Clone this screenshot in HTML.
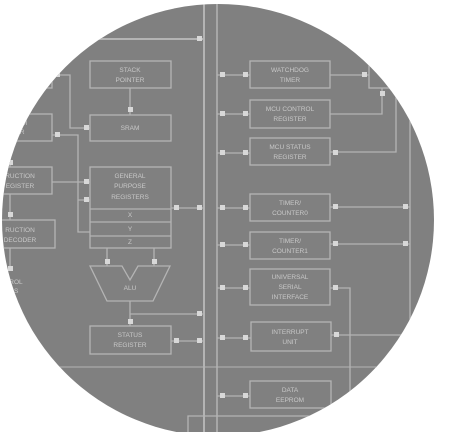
<!DOCTYPE html>
<html><head><style>
html,body{margin:0;padding:0;background:#fff;width:450px;height:432px;overflow:hidden}
text{font-family:"Liberation Sans",sans-serif;font-size:6.5px;fill:#c8c8c8;text-anchor:middle}
</style></head><body>
<svg width="450" height="432" viewBox="0 0 450 432" xmlns="http://www.w3.org/2000/svg">
<defs><clipPath id="c"><circle cx="218" cy="220" r="216"/></clipPath></defs>
<circle cx="218" cy="220" r="216" fill="#808080"/>
<g clip-path="url(#c)" stroke="#b4b4b4" stroke-width="1.3" fill="none">
<line x1="204" y1="0" x2="204" y2="432" stroke-width="2"/>
<line x1="217" y1="0" x2="217" y2="432" stroke-width="1.5"/>
<line x1="0" y1="367" x2="450" y2="367" stroke-width="1"/>
<line x1="95" y1="39" x2="204" y2="39" stroke-width="2"/>
<rect x="90" y="61" width="81" height="27"/>
<rect x="90" y="115" width="81" height="26"/>
<rect x="90" y="167" width="81" height="81"/>
<line x1="90" y1="209" x2="171" y2="209"/><line x1="90" y1="222" x2="171" y2="222"/><line x1="90" y1="236" x2="171" y2="236"/>
<polygon points="90,266 122,266 130,280 138,266 170,266 153,301 107,301"/>
<rect x="90" y="326" width="81" height="28"/>
<rect x="-10" y="60" width="62" height="28"/>
<rect x="-10" y="114" width="62" height="27"/>
<rect x="-10" y="167" width="62" height="27"/>
<rect x="-10" y="220" width="65" height="28"/>
<line x1="130" y1="88" x2="130" y2="115"/>
<polyline points="55,75 70,75 70,128 90,128"/>
<polyline points="52,135 78,135 78,232 90,232"/>
<line x1="78" y1="200" x2="90" y2="200"/>
<line x1="52" y1="182" x2="90" y2="182"/>
<line x1="10" y1="150" x2="10" y2="167"/>
<line x1="10" y1="194" x2="10" y2="220"/>
<line x1="10" y1="248" x2="10" y2="270"/>
<line x1="171" y1="208" x2="204" y2="208"/>
<line x1="107" y1="248" x2="107" y2="266"/><line x1="154" y1="248" x2="154" y2="266"/>
<line x1="130" y1="301" x2="130" y2="326"/>
<line x1="130" y1="314" x2="204" y2="314"/>
<line x1="171" y1="341" x2="204" y2="341"/>
<rect x="250" y="61" width="80" height="27"/>
<rect x="250" y="100" width="80" height="28"/>
<rect x="250" y="138" width="80" height="27"/>
<rect x="250" y="194" width="80" height="27"/>
<rect x="250" y="232" width="80" height="27"/>
<rect x="250" y="269" width="80" height="36"/>
<rect x="251" y="322" width="80" height="29"/>
<rect x="250" y="381" width="81" height="27"/>
<rect x="369" y="61" width="40" height="27"/>
<line x1="217" y1="75" x2="250" y2="75"/><line x1="217" y1="114" x2="250" y2="114"/><line x1="217" y1="153" x2="250" y2="153"/>
<line x1="217" y1="208" x2="250" y2="208"/><line x1="217" y1="245" x2="250" y2="245"/><line x1="217" y1="288" x2="250" y2="288"/>
<line x1="217" y1="338" x2="251" y2="338"/><line x1="217" y1="396" x2="250" y2="396"/>
<line x1="330" y1="75" x2="369" y2="75"/>
<polyline points="330,114 382,114 382,88"/>
<polyline points="330,152 396,152 396,88"/>
<line x1="410" y1="88" x2="410" y2="432"/>
<line x1="330" y1="207" x2="410" y2="207"/>
<line x1="330" y1="244" x2="410" y2="244"/>
<polyline points="330,288 350,288 350,432"/>
<line x1="331" y1="335" x2="450" y2="335"/>
<polyline points="188,432 188,416 330,416"/>
</g>
<g clip-path="url(#c)" fill="#d8d8d8">
<rect x="197" y="36" width="5" height="5"/>
<rect x="128" y="107" width="5" height="5"/><rect x="84" y="125" width="5" height="5"/>
<rect x="84" y="179" width="5" height="5"/><rect x="84" y="197" width="5" height="5"/>
<rect x="174" y="205" width="5" height="5"/><rect x="197" y="205" width="5" height="5"/>
<rect x="105" y="259" width="5" height="5"/><rect x="152" y="259" width="5" height="5"/>
<rect x="128" y="319" width="5" height="5"/><rect x="197" y="311" width="5" height="5"/>
<rect x="174" y="338" width="5" height="5"/><rect x="197" y="338" width="5" height="5"/>
<rect x="8" y="160" width="5" height="5"/><rect x="8" y="212" width="5" height="5"/><rect x="8" y="266" width="5" height="5"/>
<rect x="55" y="72" width="5" height="5"/><rect x="55" y="132" width="5" height="5"/>
<rect x="243" y="72" width="5" height="5"/><rect x="243" y="111" width="5" height="5"/><rect x="243" y="150" width="5" height="5"/>
<rect x="243" y="205" width="5" height="5"/><rect x="243" y="242" width="5" height="5"/><rect x="243" y="285" width="5" height="5"/>
<rect x="243" y="335" width="5" height="5"/><rect x="243" y="393" width="5" height="5"/>
<rect x="220" y="72" width="5" height="5"/><rect x="220" y="111" width="5" height="5"/><rect x="220" y="150" width="5" height="5"/>
<rect x="220" y="205" width="5" height="5"/><rect x="220" y="242" width="5" height="5"/><rect x="220" y="285" width="5" height="5"/>
<rect x="220" y="335" width="5" height="5"/><rect x="220" y="393" width="5" height="5"/>
<rect x="362" y="72" width="5" height="5"/><rect x="380" y="91" width="5" height="5"/>
<rect x="333" y="150" width="5" height="5"/><rect x="333" y="204" width="5" height="5"/><rect x="403" y="204" width="5" height="5"/>
<rect x="333" y="241" width="5" height="5"/><rect x="403" y="241" width="5" height="5"/>
<rect x="333" y="285" width="5" height="5"/><rect x="334" y="332" width="5" height="5"/>
</g>
<g clip-path="url(#c)">
<text x="130" y="72">STACK</text><text x="130" y="82">POINTER</text>
<text x="130" y="130">SRAM</text>
<text x="130" y="178">GENERAL</text><text x="130" y="188">PURPOSE</text><text x="130" y="199">REGISTERS</text>
<text x="130" y="217">X</text><text x="130" y="231">Y</text><text x="130" y="244">Z</text>
<text x="130" y="290">ALU</text>
<text x="130" y="337">STATUS</text><text x="130" y="347">REGISTER</text>
<text x="20" y="125">RAM</text><text x="20" y="134">ER</text>
<text x="20" y="178">RUCTION</text><text x="20" y="188">EGISTER</text>
<text x="20" y="232">RUCTION</text><text x="20" y="242">DECODER</text>
<text x="14" y="284">TROL</text><text x="14" y="293">ES</text>
<text x="290" y="72">WATCHDOG</text><text x="290" y="82">TIMER</text>
<text x="290" y="111">MCU CONTROL</text><text x="290" y="121">REGISTER</text>
<text x="290" y="149">MCU STATUS</text><text x="290" y="159">REGISTER</text>
<text x="290" y="205">TIMER/</text><text x="290" y="215">COUNTER0</text>
<text x="290" y="243">TIMER/</text><text x="290" y="253">COUNTER1</text>
<text x="290" y="279">UNIVERSAL</text><text x="290" y="289">SERIAL</text><text x="290" y="299">INTERFACE</text>
<text x="290" y="334">INTERRUPT</text><text x="290" y="344">UNIT</text>
<text x="290" y="392">DATA</text><text x="290" y="402">EEPROM</text>
</g>
</svg>
</body></html>
